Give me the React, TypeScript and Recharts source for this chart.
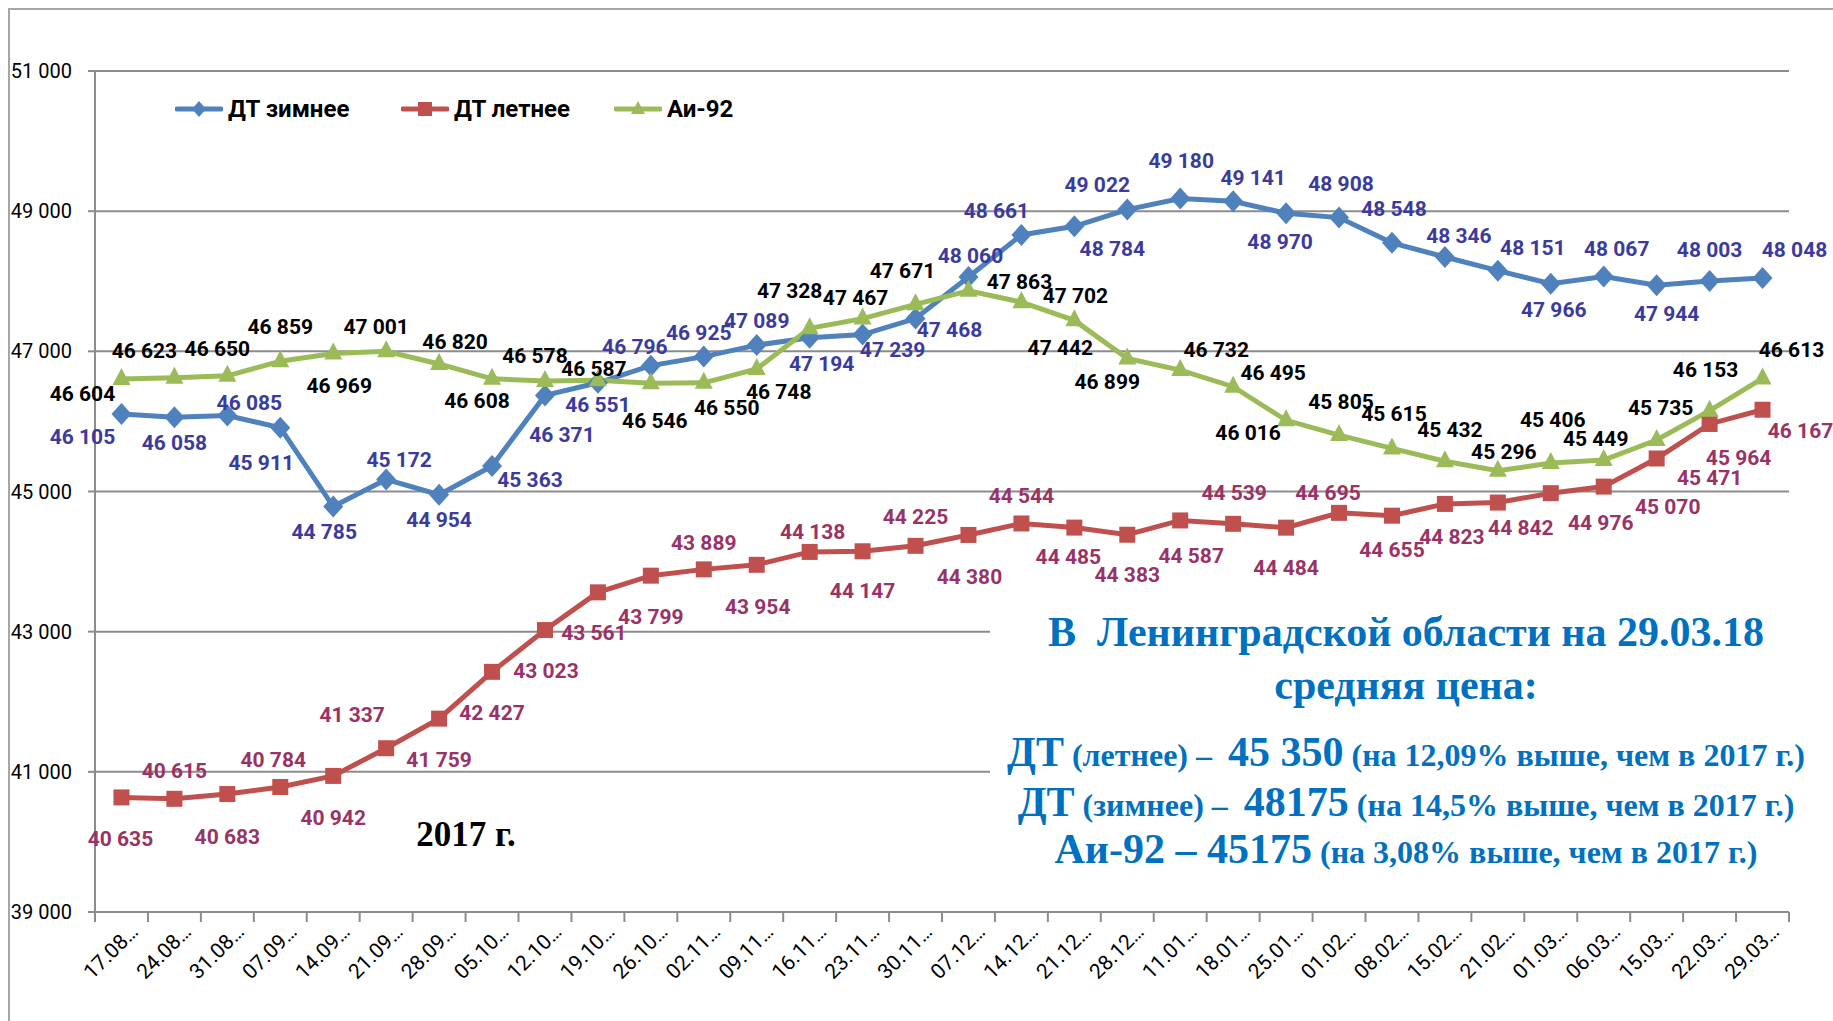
import React from "react"
import { LineChart, Line, XAxis, YAxis, CartesianGrid, LabelList } from "recharts"

// weekly dates (2017-2018)
const dates = [
  "17.08", "24.08", "31.08", "07.09", "14.09", "21.09", "28.09", "05.10", "12.10", "19.10",
  "26.10", "02.11", "09.11", "16.11", "23.11", "30.11", "07.12", "14.12", "21.12", "28.12",
  "11.01", "18.01", "25.01", "01.02", "08.02", "15.02", "21.02", "01.03", "06.03", "15.03",
  "22.03", "29.03",
]

const dtWinter = [
  46105, 46058, 46085, 45911, 44785, 45172, 44954, 45363, 46371, 46551,
  46796, 46925, 47089, 47194, 47239, 47468, 48060, 48661, 48784, 49022,
  49180, 49141, 48970, 48908, 48548, 48346, 48151, 47966, 48067, 47944,
  48003, 48048,
]

const dtSummer = [
  40635, 40615, 40683, 40784, 40942, 41337, 41759, 42427, 43023, 43561,
  43799, 43889, 43954, 44138, 44147, 44225, 44380, 44544, 44485, 44383,
  44587, 44539, 44484, 44695, 44655, 44823, 44842, 44976, 45070, 45471,
  45964, 46167,
]

const ai92 = [
  46604, 46623, 46650, 46859, 46969, 47001, 46820, 46608, 46578, 46587,
  46546, 46550, 46748, 47328, 47467, 47671, 47863, 47702, 47442, 46899,
  46732, 46495, 46016, 45805, 45615, 45432, 45296, 45406, 45449, 45735,
  46153, 46613,
]

const yTicks = [39000, 41000, 43000, 45000, 47000, 49000, 51000]

// hand placed data label nudges (dx, dy) like in the original sheet
const winterLabelPos = [
  [-39, 23], [0, 26], [22, -12], [-19, 35], [-9, 25], [13, -19], [0, 25], [38, 14], [17, 40], [0, 22],
  [-16, -19], [-5, -24], [0, -24], [12, 26], [30, 15], [34, 11], [2, -21], [-25, -24], [38, 23], [-30, -25],
  [1, -38], [20, -23], [-6, 29], [2, -34], [2, -34], [14, -21], [35, -23], [3, 26], [13, -28], [10, 29],
  [0, -31], [32, -28],
]
const summerLabelPos = [
  [-1, 42], [0, -28], [0, 43], [-7, -27], [0, 42], [-34, -33], [0, 41], [0, 41], [1, 41], [-4, 41],
  [0, 41], [0, -26], [1, 42], [3, -20], [0, 40], [0, -29], [1, 42], [0, -27], [-6, 29], [0, 40],
  [11, 36], [1, -31], [0, 40], [-11, -20], [0, 34], [7, 33], [23, 25], [50, 30], [64, 20], [53, 20],
  [29, 34], [38, 21],
]
const aiLabelPos = [
  [-39, 15], [-30, -27], [-10, -27], [0, -34], [6, 32], [-10, -24], [16, -22], [-15, 22], [-10, -25], [-4, -11],
  [4, 38], [23, 25], [22, 23], [-20, -37], [-7, -21], [-13, -33], [51, -9], [54, -6], [-14, 28], [-20, 24],
  [36, -20], [40, -14], [-38, 13], [2, -33], [2, -34], [5, -31], [6, -19], [2, -43], [-8, -21], [4, -32],
  [-4, -41], [29, -28],
]

const data = dates.map((d, i) => ({
  date: d,
  winter: dtWinter[i],
  summer: dtSummer[i],
  ai: ai92[i],
}))

const W = 1833
const H = 1021
const MARGIN = { top: 71, right: 44, bottom: 9, left: 15 }
const Y_AXIS_W = 80
const X_AXIS_H = 100
const PLOT_LEFT = MARGIN.left + Y_AXIS_W
const PLOT_RIGHT = W - MARGIN.right
const BAND = (PLOT_RIGHT - PLOT_LEFT) / dates.length

const GRID = "#8c8c8c"
const BLUE = "#4F81BD"
const RED = "#C0504D"
const GREEN = "#9BBB59"
const SANS = "Roboto, 'Liberation Sans', sans-serif"
const SERIF = "'Liberation Serif', 'Times New Roman', serif"

const fmt = (v: number) => String(v).replace(/\B(?=(\d{3})+(?!\d))/g, " ")

const Diamond = (p: any) => {
  const { cx, cy, index } = p
  if (cx == null || cy == null) return <g key={index} />
  return <path key={index} d={`M${cx},${cy - 11}L${cx + 10},${cy}L${cx},${cy + 11}L${cx - 10},${cy}Z`} fill={BLUE} />
}

const Square = (p: any) => {
  const { cx, cy, index } = p
  if (cx == null || cy == null) return <g key={index} />
  return <rect key={index} x={cx - 8} y={cy - 8} width={16} height={16} fill={RED} />
}

const Triangle = (p: any) => {
  const { cx, cy, index } = p
  if (cx == null || cy == null) return <g key={index} />
  return <path key={index} d={`M${cx},${cy - 11}L${cx + 9},${cy + 6}L${cx - 9},${cy + 6}Z`} fill={GREEN} />
}

const makeLabel = (offsets: number[][], color: string) => (props: any) => {
  const { x, y, value, index } = props
  if (x == null || y == null) return null
  const [dx, dy] = offsets[index] || [0, -20]
  return (
    <text
      key={index}
      x={x + dx}
      y={y + dy}
      textAnchor="middle"
      dominantBaseline="central"
      fill={color}
      fontSize={21}
      fontWeight="bold"
      fontFamily={SANS}
    >
      {fmt(value)}
    </text>
  )
}

const XTick = (props: any) => {
  const { x, y, payload, index } = props
  const half = BAND / 2
  const tx = x + 18
  const ty = y + 21
  return (
    <g>
      <line x1={x - half} x2={x - half} y1={y} y2={y + 10} stroke={GRID} strokeWidth={2} />
      {index === dates.length - 1 && (
        <line x1={x + half} x2={x + half} y1={y} y2={y + 10} stroke={GRID} strokeWidth={2} />
      )}
      <text
        x={tx}
        y={ty}
        transform={`rotate(-45 ${tx} ${ty})`}
        textAnchor="end"
        fontSize={21}
        fontFamily={SANS}
        fill="#000"
      >
        {payload.value}…
      </text>
    </g>
  )
}

const legendItems = [
  { name: "ДТ зимнее", color: BLUE, left: 175, marker: "diamond" },
  { name: "ДТ летнее", color: RED, left: 401, marker: "square" },
  { name: "Аи-92", color: GREEN, left: 614, marker: "triangle" },
]

const LegendIcon = ({ color, marker }: { color: string; marker: string }) => (
  <svg width={48} height={20} style={{ display: "block" }}>
    <line x1={2} x2={46} y1={10} y2={10} stroke={color} strokeWidth={5} strokeLinecap="round" />
    {marker === "diamond" && <path d="M24,2L31,10L24,18L17,10Z" fill={color} />}
    {marker === "square" && <rect x={17} y={3} width={14} height={14} fill={color} />}
    {marker === "triangle" && <path d="M24,2L31,15L17,15Z" fill={color} />}
  </svg>
)

const blueText = "#0070C0"

export default function App() {
  return (
    <div
      style={{
        position: "absolute",
        left: 0,
        top: 0,
        width: W,
        height: H,
        background: "#fff",
        overflow: "hidden",
      }}
    >
      {/* outer frame */}
      <div
        style={{
          position: "absolute",
          left: 8,
          top: 8,
          width: 1900,
          height: 1100,
          border: "2px solid #a6a6a6",
          boxSizing: "border-box",
        }}
      />

      <div style={{ position: "absolute", left: 0, top: 0 }}>
        <LineChart width={W} height={H} data={data} margin={MARGIN}>
          <CartesianGrid horizontal vertical={false} stroke={GRID} strokeWidth={2} />
          <XAxis
            dataKey="date"
            scale="band"
            interval={0}
            height={X_AXIS_H}
            tickLine={false}
            tickSize={0}
            tickMargin={0}
            axisLine={{ stroke: GRID, strokeWidth: 2 }}
            tick={<XTick />}
          />
          <YAxis
            width={Y_AXIS_W}
            domain={[39000, 51000]}
            ticks={yTicks}
            allowDataOverflow
            tickFormatter={fmt}
            tickSize={7}
            tickMargin={16}
            tickLine={{ stroke: GRID, strokeWidth: 2 }}
            axisLine={{ stroke: GRID, strokeWidth: 2 }}
            tick={{ fill: "#000", fontSize: 20, fontFamily: SANS }}
          />
          <Line
            dataKey="winter"
            stroke={BLUE}
            strokeWidth={5}
            dot={<Diamond />}
            activeDot={false}
            isAnimationActive={false}
          />
          <Line
            dataKey="summer"
            stroke={RED}
            strokeWidth={5}
            dot={<Square />}
            activeDot={false}
            isAnimationActive={false}
          />
          <Line
            dataKey="ai"
            stroke={GREEN}
            strokeWidth={5}
            dot={<Triangle />}
            activeDot={false}
            isAnimationActive={false}
          />
          {/* label layers drawn on top of all three lines */}
          <Line dataKey="winter" stroke="none" dot={false} activeDot={false} isAnimationActive={false}>
            <LabelList dataKey="winter" content={makeLabel(winterLabelPos, "#3B3B9E")} />
          </Line>
          <Line dataKey="summer" stroke="none" dot={false} activeDot={false} isAnimationActive={false}>
            <LabelList dataKey="summer" content={makeLabel(summerLabelPos, "#993366")} />
          </Line>
          <Line dataKey="ai" stroke="none" dot={false} activeDot={false} isAnimationActive={false}>
            <LabelList dataKey="ai" content={makeLabel(aiLabelPos, "#000")} />
          </Line>
        </LineChart>
      </div>

      {/* legend */}
      {legendItems.map((it) => (
        <div
          key={it.name}
          style={{
            position: "absolute",
            left: it.left,
            top: 94,
            height: 30,
            display: "flex",
            alignItems: "center",
            gap: 5,
            fontFamily: SANS,
            fontWeight: "bold",
            fontSize: 24,
            color: "#000",
            whiteSpace: "nowrap",
          }}
        >
          <LegendIcon color={it.color} marker={it.marker} />
          <span>{it.name}</span>
        </div>
      ))}

      {/* year note */}
      <div
        style={{
          position: "absolute",
          left: 366,
          top: 813,
          width: 200,
          textAlign: "center",
          fontFamily: SERIF,
          fontWeight: "bold",
          fontSize: 35,
          lineHeight: "44px",
          color: "#000",
        }}
      >
        2017 г.
      </div>

      {/* summary text box */}
      <div
        style={{
          position: "absolute",
          left: 990,
          top: 598,
          width: 832,
          height: 292,
          background: "#fff",
          color: blueText,
          fontFamily: SERIF,
          fontWeight: "bold",
          textAlign: "center",
          whiteSpace: "pre",
        }}
      >
        <div style={{ position: "absolute", left: 0, right: 0, top: 9, lineHeight: "50px", fontSize: 42 }}>
          В  Ленинградской области на 29.03.18
        </div>
        <div style={{ position: "absolute", left: 0, right: 0, top: 62, lineHeight: "50px", fontSize: 42 }}>
          средняя цена:
        </div>
        <div style={{ position: "absolute", left: 0, right: 0, top: 129, lineHeight: "50px", fontSize: 32 }}>
          <span style={{ fontSize: 42 }}>ДТ</span> (летнее) –  <span style={{ fontSize: 42 }}>45 350</span> (на 12,09% выше, чем в 2017 г.)
        </div>
        <div style={{ position: "absolute", left: 0, right: 0, top: 179, lineHeight: "50px", fontSize: 32 }}>
          <span style={{ fontSize: 42 }}>ДТ</span> (зимнее) –  <span style={{ fontSize: 42 }}>48175</span> (на 14,5% выше, чем в 2017 г.)
        </div>
        <div style={{ position: "absolute", left: 0, right: 0, top: 226, lineHeight: "50px", fontSize: 32 }}>
          <span style={{ fontSize: 42 }}>Аи-92 – 45175</span> (на 3,08% выше, чем в 2017 г.)
        </div>
      </div>
    </div>
  )
}
